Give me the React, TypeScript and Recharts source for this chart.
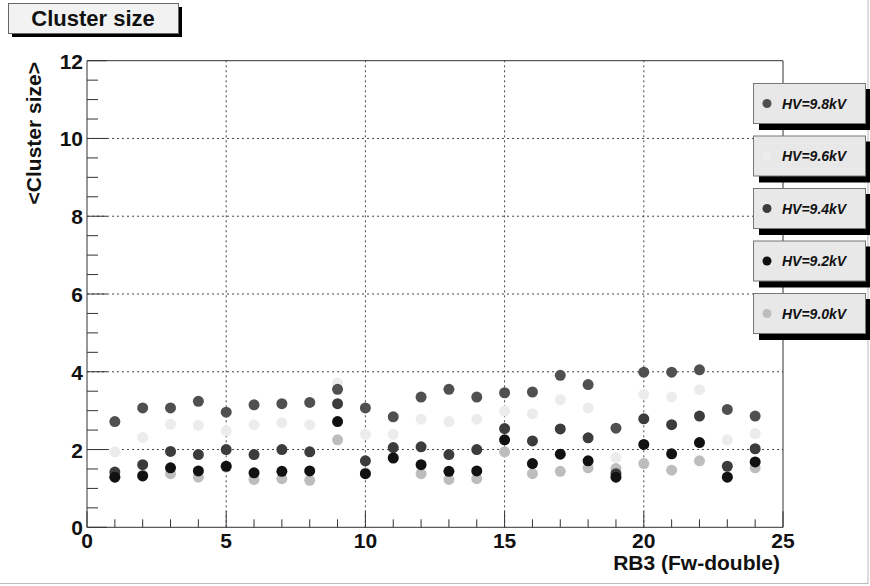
import { ReferenceLine, Scatter, ScatterChart, XAxis, YAxis } from "recharts";

const strips = [1, 2, 3, 4, 5, 6, 7, 8, 9, 10, 11, 12, 13, 14, 15, 16, 17, 18, 19, 20, 21, 22, 23, 24];
const hv98 = [2.72, 3.07, 3.07, 3.24, 2.96, 3.15, 3.18, 3.21, 3.55, 3.07, 2.84, 3.35, 3.55, 3.35, 3.46, 3.48, 3.91, 3.67, 2.55, 3.99, 3.99, 4.05, 3.03, 2.86];
const hv96 = [1.94, 2.31, 2.65, 2.62, 2.48, 2.64, 2.69, 2.64, 3.71, 2.39, 2.39, 2.78, 2.72, 2.78, 2.99, 2.92, 3.28, 3.07, 1.79, 3.42, 3.35, 3.54, 2.25, 2.41];
const hv94 = [1.42, 1.61, 1.95, 1.87, 2.0, 1.87, 2.0, 1.94, 3.18, 1.71, 2.05, 2.07, 1.87, 2.0, 2.54, 2.22, 2.53, 2.3, 1.38, 2.79, 2.64, 2.86, 1.57, 2.02];
const hv92 = [1.29, 1.32, 1.53, 1.45, 1.57, 1.4, 1.44, 1.45, 2.72, 1.38, 1.78, 1.61, 1.44, 1.45, 2.25, 1.64, 1.88, 1.71, 1.29, 2.13, 1.89, 2.18, 1.29, 1.68];
const hv90 = [1.3, 1.35, 1.38, 1.29, 1.55, 1.23, 1.25, 1.21, 2.25, 1.4, 1.8, 1.38, 1.23, 1.25, 1.94, 1.38, 1.44, 1.53, 1.51, 1.64, 1.47, 1.71, 1.3, 1.53];

const xTicks = Array.from({ length: 26 }, (_, i) => i);
const yTicks = Array.from({ length: 25 }, (_, i) => i * 0.5);
const xGrid = [5, 10, 15, 20];
const yGrid = [2, 4, 6, 8, 10];

// legend order (top to bottom) and draw order differ
const legend = [
  { name: "HV=9.8kV", color: "#505050" },
  { name: "HV=9.6kV", color: "#ececec" },
  { name: "HV=9.4kV", color: "#3c3c3c" },
  { name: "HV=9.2kV", color: "#111111" },
  { name: "HV=9.0kV", color: "#bdbdbd" },
];

const series = [
  { name: "HV=9.0kV", values: hv90, color: "#bdbdbd" },
  { name: "HV=9.6kV", values: hv96, color: "#ececec" },
  { name: "HV=9.8kV", values: hv98, color: "#505050" },
  { name: "HV=9.4kV", values: hv94, color: "#3c3c3c" },
  { name: "HV=9.2kV", values: hv92, color: "#111111" },
];

const font = "'Liberation Sans', Arial, Helvetica, sans-serif";

const YTick = (props: any) => {
  const { x, y, payload } = props;
  const v = payload.value;
  const major = v % 2 === 0;
  return (
    <g>
      <line x1={x} y1={y} x2={x + (major ? 20 : 11)} y2={y} stroke="#333" />
      {major && (
        <text x={x - 4} y={y + 8} textAnchor="end" fontFamily={font} fontWeight="bold" fontSize={21} fill="#111">
          {v}
        </text>
      )}
    </g>
  );
};

const XTick = (props: any) => {
  const { x, y, payload } = props;
  const v = payload.value;
  const major = v % 5 === 0;
  return (
    <g>
      <line x1={x} y1={y} x2={x} y2={y - (major ? 16 : 8)} stroke="#333" />
      {major && (
        <text x={x} y={y + 21} textAnchor="middle" fontFamily={font} fontWeight="bold" fontSize={21} fill="#111">
          {v}
        </text>
      )}
    </g>
  );
};

const Dot = (color: string) => (props: any) => <circle cx={props.cx} cy={props.cy} r={5.5} fill={color} />;

export default function App() {
  return (
    <div style={{ position: "absolute", left: 0, top: 0, width: 870, height: 586, background: "#fff" }}>
      <ScatterChart width={870} height={586} margin={{ top: 60.7, right: 87, bottom: 28.7, left: 57 }}>
        <XAxis
          type="number"
          dataKey="x"
          domain={[0, 25]}
          ticks={xTicks}
          interval={0}
          height={30}
          tickSize={0}
          tickMargin={0}
          tickLine={false}
          tick={<XTick />}
          axisLine={{ stroke: "#333" }}
          allowDataOverflow
        />
        <YAxis
          type="number"
          dataKey="y"
          domain={[0, 12]}
          ticks={yTicks}
          interval={0}
          width={30}
          tickSize={0}
          tickMargin={0}
          tickLine={false}
          tick={<YTick />}
          axisLine={{ stroke: "#333" }}
          allowDataOverflow
        />
        {xGrid.map((v) => (
          <ReferenceLine key={`gx${v}`} x={v} stroke="#444" strokeDasharray="2 3" />
        ))}
        {yGrid.map((v) => (
          <ReferenceLine key={`gy${v}`} y={v} stroke="#444" strokeDasharray="2 3" />
        ))}
        <ReferenceLine y={12} stroke="#333" />
        <ReferenceLine x={25} stroke="#333" />
        {series.map((s) => (
          <Scatter
            key={s.name}
            name={s.name}
            data={strips.map((x, i) => ({ x, y: s.values[i] }))}
            shape={Dot(s.color)}
            isAnimationActive={false}
          />
        ))}
      </ScatterChart>
      <svg
        width={870}
        height={586}
        style={{ position: "absolute", left: 0, top: 0, pointerEvents: "none" }}
      >
        <line x1={868} y1={0} x2={868} y2={584} stroke="#bbb" />
        <line x1={0} y1={583.5} x2={868} y2={583.5} stroke="#bbb" />
        {/* title box */}
        <rect x={12} y={7} width={170} height={30} fill="#000" />
        <rect x={8.5} y={3.5} width={170} height={30} fill="#f2f2f2" stroke="#666" />
        <text x={93} y={26} textAnchor="middle" fontFamily={font} fontWeight="bold" fontSize={22} fill="#111">
          Cluster size
        </text>
        {/* y axis title */}
        <text
          x={41}
          y={62}
          transform="rotate(-90, 41, 62)"
          textAnchor="end"
          fontFamily={font}
          fontWeight="bold"
          fontSize={21}
          fill="#111"
        >
          {"<Cluster size>"}
        </text>
        {/* x axis title */}
        <text x={780} y={570} textAnchor="end" fontFamily={font} fontWeight="bold" fontSize={21} fill="#111">
          RB3 (Fw-double)
        </text>
        {/* legend boxes */}
        {legend.map((l, i) => {
          const top = 83 + i * 52.5;
          return (
            <g key={l.name}>
              <rect x={759} y={top + 6} width={113} height={41} fill="#000" />
              <rect x={753.5} y={top + 0.5} width={112} height={40} fill="#e8e8e8" stroke="#777" />
              <circle cx={767} cy={top + 20.5} r={4.5} fill={l.color} />
              <text
                x={782}
                y={top + 25.5}
                fontFamily={font}
                fontWeight="bold"
                fontStyle="italic"
                fontSize={14}
                fill="#111"
              >
                {l.name}
              </text>
            </g>
          );
        })}
      </svg>
    </div>
  );
}
